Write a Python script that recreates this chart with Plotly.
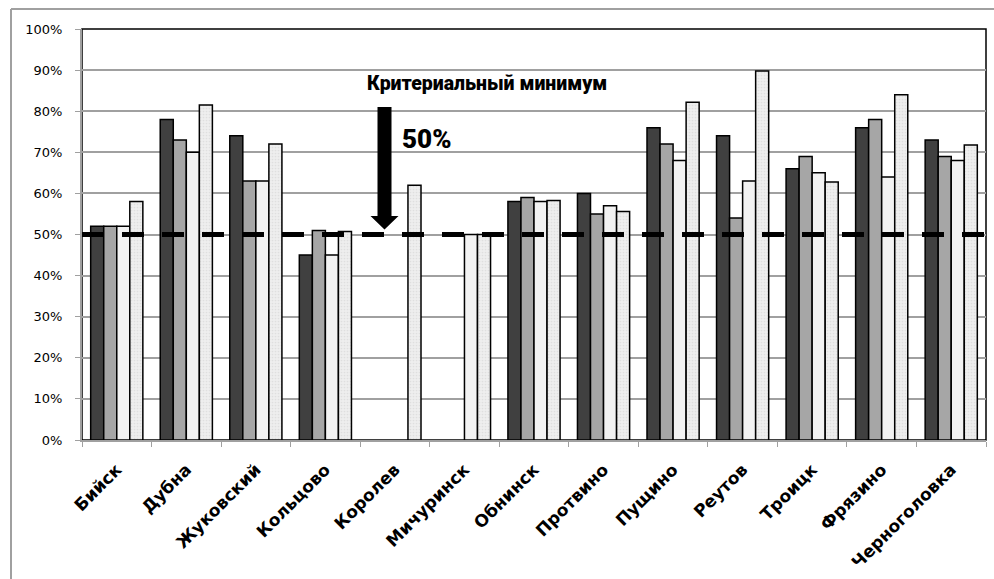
import plotly.graph_objects as go

# Cities and the four indicator series (percent)
cities = ["Бийск", "Дубна", "Жуковский", "Кольцово", "Королев", "Мичуринск",
          "Обнинск", "Протвино", "Пущино", "Реутов", "Троицк", "Фрязино", "Черноголовка"]
series_1 = [52, 78, 74, 45, None, None, 58, 60, 76, 74, 66, 76, 73]
series_2 = [52, 73, 63, 51, None, None, 59, 55, 72, 54, 69, 78, 69]
series_3 = [52, 70, 63, 45, None, 50, 58, 57, 68, 63, 65, 64, 68]
series_4 = [58, 81.5, 72, 50.7, 62, 50, 58.3, 55.6, 82.2, 89.8, 62.8, 84, 71.8]
threshold = 50
yticks = list(range(0, 101, 10))

fig = go.Figure()
styles = [
    dict(name="Серия 1", y=series_1, color="#404040"),
    dict(name="Серия 2", y=series_2, color="#a6a6a6"),
    dict(name="Серия 3", y=series_3, color="#f2f2f2"),
    dict(name="Серия 4", y=series_4, color="#e8e8e8"),
]
for i, s in enumerate(styles):
    marker = dict(color=s["color"], line=dict(color="#000000", width=1.5))
    if i == 3:
        marker["pattern"] = dict(shape=".", size=3, solidity=0.25,
                                 fgcolor="#cfcfcf", bgcolor="#eeeeee")
    fig.add_trace(go.Bar(x=cities, y=s["y"], name=s["name"], marker=marker))

# plot-area geometry in pixels (used to place the frame and arrow)
L, R, T, B = 82, 8, 29, 139
W, H = 994, 579
pw, ph = W - L - R, H - T - B

def px_x(x):
    return (x - L) / pw

def px_y(y):
    return (H - B - y) / ph

shapes = [
    # plot-area border
    dict(type="rect", xref="paper", yref="paper", x0=0, x1=1, y0=0, y1=1,
         line=dict(color="#000000", width=1.5), layer="below"),
    # outer chart frame
    dict(type="line", xref="paper", yref="paper", x0=px_x(11), x1=px_x(1000),
         y0=px_y(9), y1=px_y(9), line=dict(color="#a0a0a0", width=2)),
    dict(type="line", xref="paper", yref="paper", x0=px_x(11), x1=px_x(11),
         y0=px_y(9), y1=px_y(600), line=dict(color="#a0a0a0", width=2)),
    # threshold line
    dict(type="line", xref="paper", yref="y", x0=0, x1=1, y0=threshold, y1=threshold,
         line=dict(color="#000000", width=5, dash="22px,18px"), layer="above"),
]

# downward arrow pointing at the threshold
ax = px_x(384.5)
hw, hh = 7 / pw, 14 / pw
top, base, tip = px_y(107), px_y(216), px_y(229.5)
arrow_path = (f"M {ax-hw},{top} L {ax+hw},{top} L {ax+hw},{base} L {ax+hh},{base} "
              f"L {ax},{tip} L {ax-hh},{base} L {ax-hw},{base} Z")
shapes.append(dict(type="path", xref="paper", yref="paper", path=arrow_path,
                   fillcolor="#000000", line=dict(color="#000000", width=0)))

heavy = "Roboto, Liberation Sans, sans-serif"
annotations = [
    dict(text="Критериальный минимум", xref="paper", yref="paper",
         x=px_x(487), y=px_y(84), xanchor="center", yanchor="middle", showarrow=False,
         font=dict(family=heavy, size=19.5, color="#000000", weight=900)),
    dict(text="50%", xref="paper", yref="paper",
         x=px_x(400), y=px_y(139), xanchor="left", yanchor="middle", showarrow=False,
         font=dict(family=heavy, size=26, color="#000000", weight=900)),
]

fig.update_layout(
    width=W, height=H,
    margin=dict(l=L, r=R, t=T, b=B),
    paper_bgcolor="#ffffff", plot_bgcolor="#ffffff",
    barmode="group", bargap=0.25, bargroupgap=0,
    showlegend=False,
    shapes=shapes, annotations=annotations,
    font=dict(family="DejaVu Sans", color="#000000"),
)
fig.update_xaxes(
    type="category", tickangle=-45, tickson="boundaries",
    ticks="outside", ticklen=5, tickcolor="#a0a0a0",
    showline=True, linecolor="#a0a0a0", linewidth=2,
    showgrid=False, ticklabelstandoff=11,
    tickfont=dict(family="DejaVu Sans", size=17, color="#000000", weight="bold"),
)
fig.update_yaxes(
    range=[0, 100], tickvals=yticks, ticktext=[f"{v}%" for v in yticks],
    ticks="outside", ticklen=5, tickcolor="#a0a0a0",
    showline=True, linecolor="#a0a0a0", linewidth=2,
    showgrid=True, gridcolor="#a0a0a0", gridwidth=1.5,
    zeroline=False, ticklabelstandoff=10,
    tickfont=dict(family="DejaVu Sans", size=13, color="#000000"),
)

fig.write_html("out.html")
